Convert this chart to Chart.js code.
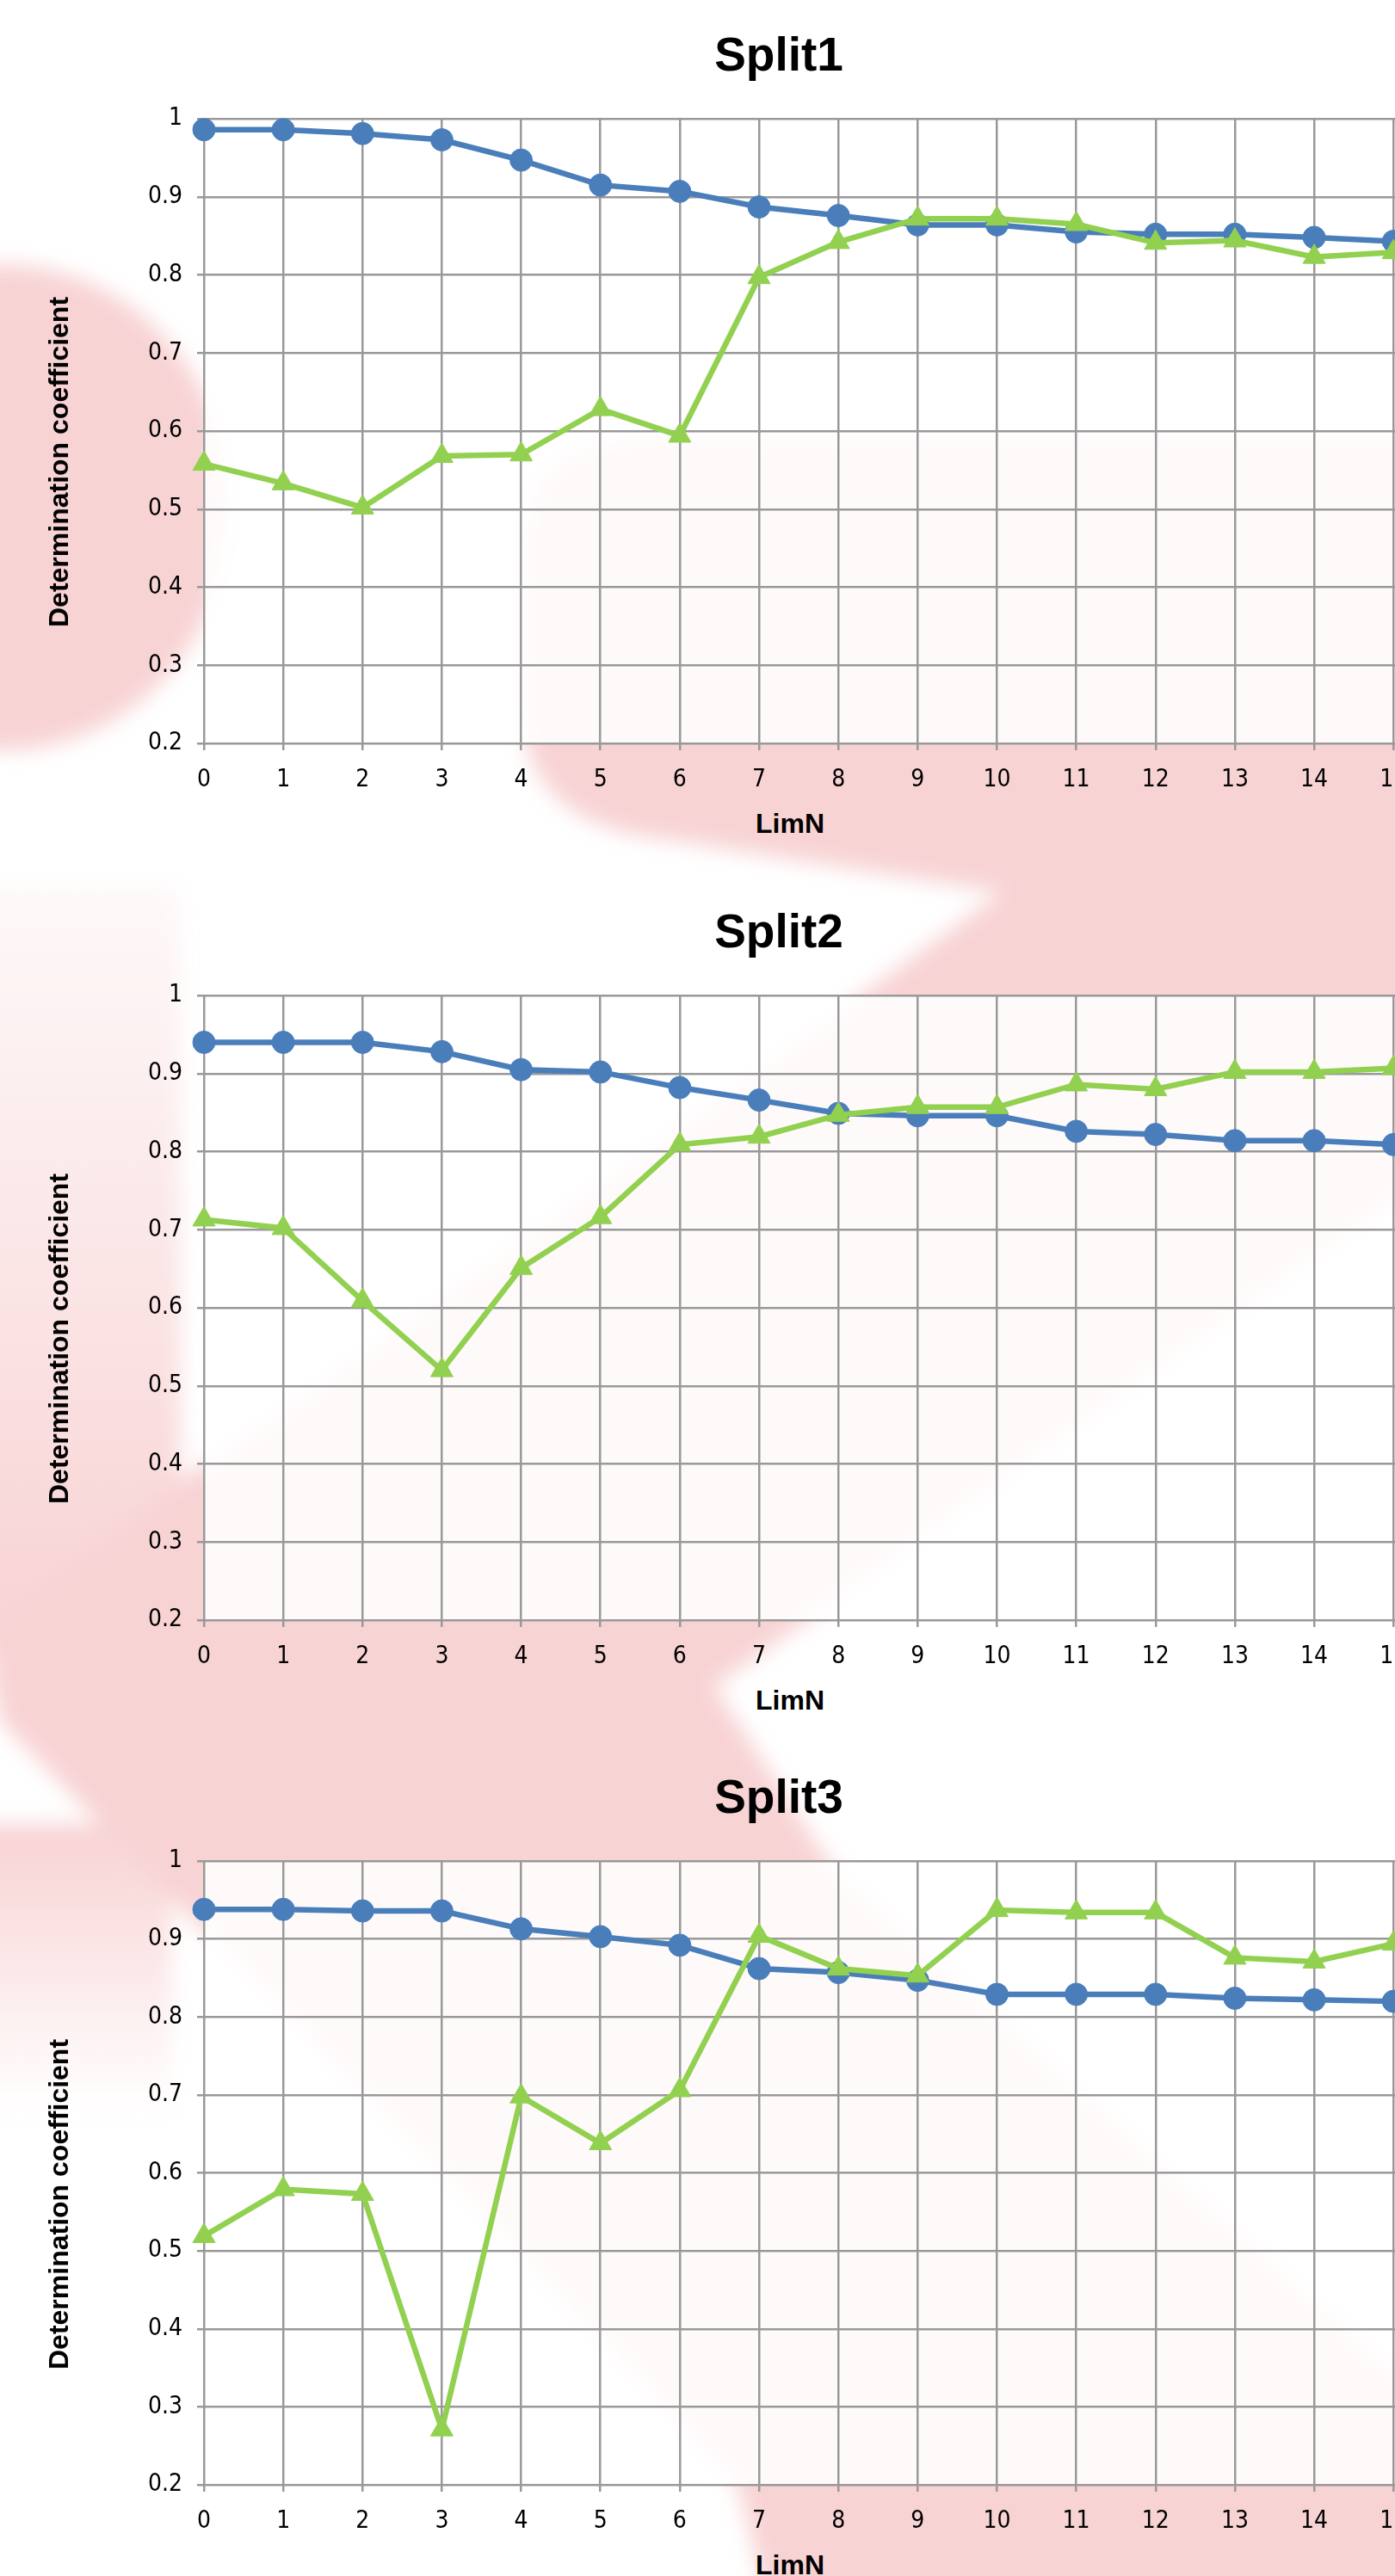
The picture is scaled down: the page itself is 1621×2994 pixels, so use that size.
<!DOCTYPE html>
<html>
<head>
<meta charset="utf-8">
<title>Determination coefficient vs LimN</title>
<script src="https://cdn.jsdelivr.net/npm/chart.js@4.4.1/dist/chart.umd.min.js"></script>
<style>
  html, body { margin: 0; padding: 0; background: #fff; }
  body { position: relative; width: 1621px; height: 2994px; overflow: hidden; }
  #bg { position: absolute; left: 0; top: 0; }
  canvas { position: absolute; left: 0; }
  .title, .xTitle, .yTitle {
    position: absolute; color: #000; white-space: nowrap; font-weight: bold;
    font-family: "Liberation Sans", Arial, sans-serif;
  }
  .title { font-size: 55px; line-height: 55px; transform: translateX(-50%); }
  .xTitle, .yTitle { font-size: 32px; line-height: 32px; }
  .xTitle { transform: translateX(-50%); }
  .yTitle { transform: translate(-50%, -50%) rotate(-90deg); }
</style>
</head>
<body>
<svg id="bg" width="1621" height="2994">
  <defs>
    <filter id="soft" x="-10%" y="-10%" width="120%" height="120%">
      <feGaussianBlur stdDeviation="12"/>
    </filter>
    <linearGradient id="fadeDown" x1="0" y1="0" x2="0" y2="1">
      <stop offset="0" stop-color="#f8d3d4" stop-opacity="0.15"/>
      <stop offset="1" stop-color="#f8d3d4" stop-opacity="1"/>
    </linearGradient>
    <linearGradient id="fadeUp" x1="0" y1="0" x2="0" y2="1">
      <stop offset="0" stop-color="#f8d3d4" stop-opacity="1"/>
      <stop offset="1" stop-color="#f8d3d4" stop-opacity="0"/>
    </linearGradient>
  </defs>
  <g filter="url(#soft)" fill="#f8d3d4">
    <ellipse cx="5" cy="590" rx="262" ry="282"/>
    <path d="M605,650 Q605,505 750,505 L1660,505 L1660,1370 L830,1960 L962,2163 L1660,2790 L1660,3020
             L890,3020 L858,2890 L486,2500 L0,2000 L-20,1887 L1000,1157 L1164,1037 L771,975 Q610,960 605,820 Z"/>
    <rect x="-40" y="1030" width="250" height="880" fill="url(#fadeDown)"/>
    <rect x="-40" y="2120" width="240" height="340" fill="url(#fadeUp)"/>
  </g>
</svg>
<script>
// values
const limN = [0, 1, 2, 3, 4, 5, 6, 7, 8, 9, 10, 11, 12, 13, 14, 15];

const split1Blue  = [0.986, 0.986, 0.981, 0.973, 0.947, 0.915, 0.907, 0.887, 0.876, 0.864, 0.864, 0.855, 0.852, 0.852, 0.848, 0.843];
const split1Green = [0.558, 0.533, 0.502, 0.568, 0.570, 0.628, 0.594, 0.797, 0.842, 0.872, 0.872, 0.865, 0.841, 0.844, 0.823, 0.829];

const split2Blue  = [0.940, 0.940, 0.940, 0.928, 0.905, 0.902, 0.882, 0.866, 0.849, 0.846, 0.846, 0.826, 0.822, 0.814, 0.814, 0.809];
const split2Green = [0.713, 0.702, 0.609, 0.520, 0.651, 0.716, 0.809, 0.819, 0.847, 0.857, 0.857, 0.886, 0.880, 0.902, 0.902, 0.907];

const split3Blue  = [0.938, 0.938, 0.936, 0.936, 0.913, 0.903, 0.892, 0.862, 0.857, 0.847, 0.829, 0.829, 0.829, 0.824, 0.822, 0.820];
const split3Green = [0.519, 0.579, 0.573, 0.271, 0.698, 0.638, 0.706, 0.904, 0.862, 0.853, 0.937, 0.934, 0.934, 0.876, 0.871, 0.894];

const yTickLabels = ["0.2", "0.3", "0.4", "0.5", "0.6", "0.7", "0.8", "0.9", "1"];
const xTickLabels = limN.map(String);
const chartTitles = ["Split1", "Split2", "Split3"];
const seriesNames = ["Series 1", "Series 2"];
const xAxisTitle = "LimN";
const yAxisTitle = "Determination coefficient";

const blueSets  = [split1Blue, split2Blue, split3Blue];
const greenSets = [split1Green, split2Green, split3Green];

// layout (pixels)
const plotTops    = [138, 1157, 2163];
const plotHeights = [726, 726, 725];
const PLOT_LEFT = 237;
const TICK_STEP_PX = 93.1;
const CANVAS_W = 1800;
const PAD_TOP = 20, PAD_BOTTOM = 10, X_AXIS_H = 60;
const X_MAX = (CANVAS_W - PLOT_LEFT) / TICK_STEP_PX;

const BLUE = "#4a7ebb";
const GREEN = "#92d050";
const GRID = "#999999";
const tickFont = { family: "'Liberation Sans Narrow', 'DejaVu Sans Condensed', 'Liberation Sans', sans-serif", size: 28 };

const plotFill = {
  id: "plotFill",
  beforeDraw(chart) {
    const { ctx, chartArea: a } = chart;
    ctx.save();
    ctx.fillStyle = "rgba(255,255,255,0.88)";
    ctx.fillRect(a.left, a.top, a.right - a.left, a.bottom - a.top);
    ctx.restore();
  }
};

function toXY(values) {
  return values.map((v, i) => ({ x: limN[i], y: v }));
}

function addText(cls, text, left, top) {
  const d = document.createElement("div");
  d.className = cls;
  d.textContent = text;
  d.style.left = left + "px";
  d.style.top = top + "px";
  document.body.appendChild(d);
}

function makePanel(i) {
  const top = plotTops[i], h = plotHeights[i];
  const canvas = document.createElement("canvas");
  canvas.width = CANVAS_W;
  canvas.height = h + PAD_TOP + X_AXIS_H + PAD_BOTTOM;
  canvas.style.top = (top - PAD_TOP) + "px";
  document.body.appendChild(canvas);

  new Chart(canvas, {
    type: "line",
    data: {
      datasets: [
        {
          label: seriesNames[1], data: toXY(greenSets[i]),
          borderColor: GREEN, backgroundColor: GREEN, borderWidth: 6.5,
          pointStyle: "triangle", pointRadius: 15, pointBorderWidth: 1,
          order: 1, clip: false
        },
        {
          label: seriesNames[0], data: toXY(blueSets[i]),
          borderColor: BLUE, backgroundColor: BLUE, borderWidth: 6.5,
          pointStyle: "circle", pointRadius: 13, pointBorderWidth: 1,
          order: 2, clip: false
        }
      ]
    },
    options: {
      responsive: false,
      animation: false,
      devicePixelRatio: 1,
      layout: { padding: { top: PAD_TOP, bottom: PAD_BOTTOM, left: 0, right: 0 } },
      plugins: { legend: { display: false }, tooltip: { enabled: false } },
      scales: {
        x: {
          type: "linear", min: 0, max: X_MAX,
          border: { display: false },
          grid: { color: GRID, lineWidth: 2.5, tickLength: 8 },
          ticks: {
            stepSize: 1, autoSkip: false, maxRotation: 0, padding: 18,
            color: "#000", font: tickFont,
            callback: v => (Number.isInteger(v) && v < xTickLabels.length) ? xTickLabels[v] : ""
          },
          afterFit: s => { s.height = X_AXIS_H; s.paddingLeft = 0; s.paddingRight = 0; }
        },
        y: {
          min: 0.2, max: 1,
          border: { display: false },
          grid: { color: GRID, lineWidth: 2.5, tickLength: 8 },
          ticks: {
            stepSize: 0.1, padding: 17, color: "#000", font: tickFont,
            callback: (v, idx) => yTickLabels[idx]
          },
          afterFit: s => { s.width = PLOT_LEFT; s.paddingTop = 0; s.paddingBottom = 0; }
        }
      }
    },
    plugins: [plotFill]
  });

  addText("title", chartTitles[i], 905, top - 55 - 46.6);
  addText("xTitle", xAxisTitle, 918, top + h + 104.5 - 27.1);
  addText("yTitle", yAxisTitle, 68, top + h / 2 + 36);
}

[0, 1, 2].forEach(makePanel);
</script>
</body>
</html>
